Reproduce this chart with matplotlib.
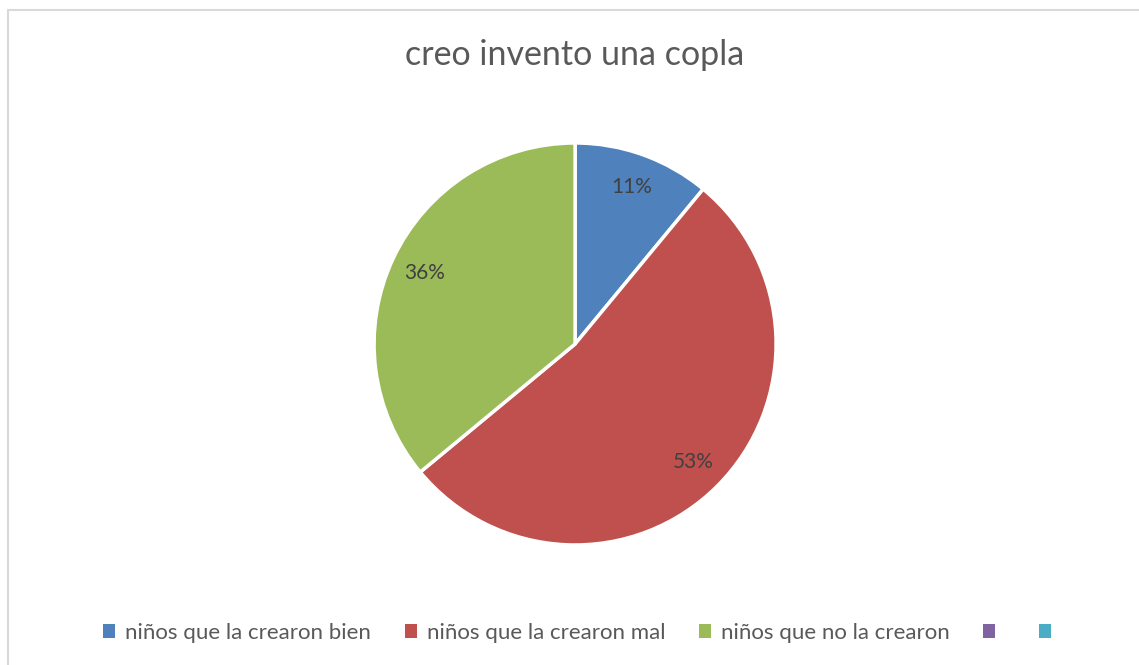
import matplotlib.pyplot as plt
from matplotlib.patches import Patch, Rectangle

# data
categories = ["niños que la crearon bien", "niños que la crearon mal", "niños que no la crearon"]
values = [11, 53, 36]
legend_labels = categories + ["", ""]

colors = ["#4F81BD", "#C0504D", "#9BBB59"]
legend_colors = colors + ["#8064A2", "#4BACC6"]

plt.rcParams['font.family'] = ['Lato', 'DejaVu Sans']

fig = plt.figure(figsize=(11.39, 6.65), dpi=100)

# light chart border (left and top visible)
fig.patches.append(Rectangle((8 / 1139, -0.05), 1.1, 1 - 10 / 665 + 0.05,
                             transform=fig.transFigure, fill=False,
                             edgecolor="#d9d9d9", linewidth=1.5))

ax = fig.add_axes([0.3284, 0.1805, 0.353, 0.6045])
wedges, texts, autotexts = ax.pie(
    values, colors=colors, startangle=90, counterclock=False,
    autopct='%.0f%%', pctdistance=0.83,
    wedgeprops=dict(edgecolor="white", linewidth=2.5),
    textprops=dict(color="#404040", fontsize=15))
ax.set_aspect("equal")
ax.set_xlim(-1, 1)
ax.set_ylim(-1, 1)

fig.text(0.5048, 1 - 55 / 665, "creo invento una copla", ha="center", va="center",
         fontsize=24.5, color="#595959")

handles = [Patch(facecolor=c, edgecolor="none") for c in legend_colors]
fig.legend(handles, legend_labels, loc="center", bbox_to_anchor=(0.511, 1 - 633 / 665),
           ncol=5, frameon=False, fontsize=16, labelcolor="#595959",
           handlelength=0.55, handleheight=0.55, handletextpad=0.45, columnspacing=1.5)

plt.savefig("out.png", dpi=100)
